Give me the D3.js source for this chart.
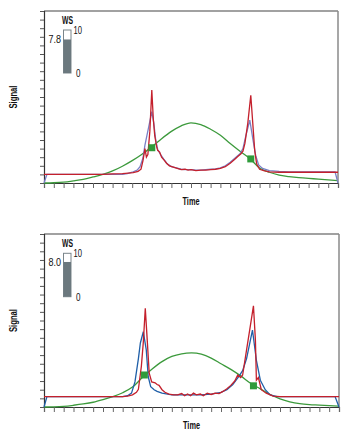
<!DOCTYPE html>
<html><head><meta charset="utf-8">
<script src="https://cdn.jsdelivr.net/npm/d3@7"></script>
<style>body{margin:0;background:#fff}svg{display:block}</style>
</head><body>
<script>
// ---------- data ----------
const timeTicks = d3.range(0, 31, 1);
const signalTicks = d3.range(0, 21, 1);

const topRed = [[0,1.0],[2,1.0],[4,1.0],[6,1.0],[7,1.05],[8,1.1],[8.6,1.15],[9.1,1.2],[9.6,1.35],[9.9,1.6],[10.1,2.6],[10.3,4.0],[10.45,3.0],[10.6,3.3],[10.8,6.0],[11.0,10.8],[11.15,7.5],[11.3,5.5],[11.5,4.2],[11.6,3.8],[11.8,3.6],[12.0,3.0],[12.3,2.6],[12.5,2.3],[12.8,2.0],[13.2,1.85],[13.6,1.7],[14.0,1.55],[14.4,1.6],[14.7,1.5],[15.0,1.55],[15.5,1.45],[16.0,1.5],[16.5,1.5],[17.0,1.55],[17.5,1.6],[18.0,1.7],[18.5,1.9],[19.0,2.3],[19.5,2.8],[19.8,3.1],[20.1,3.4],[20.3,3.7],[20.5,4.6],[20.8,7.0],[21.1,10.2],[21.3,7.0],[21.5,3.8],[21.7,2.2],[22.0,1.6],[22.5,1.4],[23,1.3],[24,1.25],[26,1.25],[28,1.25],[30,1.25]];
const topBlue = [[0,0],[0.3,1.0],[2,1.0],[4,1.0],[6,1.0],[8,1.0],[8.5,1.1],[9.0,1.25],[9.5,1.5],[9.8,1.9],[10.1,2.9],[10.3,4.4],[10.5,5.5],[10.7,6.6],[11.0,8.3],[11.2,7.0],[11.4,5.0],[11.6,3.9],[11.9,3.3],[12.2,2.8],[12.6,2.2],[13.0,1.9],[13.5,1.75],[14,1.6],[14.5,1.55],[15,1.55],[15.5,1.5],[16,1.5],[16.5,1.55],[17,1.6],[17.5,1.65],[18,1.75],[18.5,2.0],[19,2.4],[19.5,2.9],[20.0,3.4],[20.3,4.0],[20.6,5.5],[21.0,7.3],[21.3,5.2],[21.6,3.2],[21.9,2.1],[22.3,1.7],[23,1.45],[24,1.35],[25,1.3],[27,1.3],[29.7,1.3],[30,0]];
const topGreen = [[0,0],[1,0.03],[2,0.1],[3,0.25],[4,0.43],[5,0.7],[6,1.0],[7,1.4],[8,1.95],[9,2.6],[10,3.35],[11,4.2],[12,5.15],[13,6.0],[14,6.65],[15,7.0],[16,6.8],[17,6.25],[18,5.55],[19,4.6],[20,3.7],[21,2.85],[22,1.75],[23,1.25],[24,0.92],[25,0.75],[26,0.62],[27,0.53],[28,0.46],[29,0.37],[30,0.27]];
const topMarkers = [[11.0,4.1],[21.1,2.8]];
const topWS = 7.8;

const botRed = [[0,1.2],[2,1.2],[4,1.2],[6,1.2],[8,1.2],[8.5,1.25],[9.0,1.4],[9.4,1.7],[9.6,2.05],[9.9,4.7],[10.1,7.5],[10.3,11.4],[10.5,7.7],[10.7,3.9],[10.95,2.9],[11.3,2.8],[11.5,2.6],[11.7,2.5],[12.0,2.0],[12.3,1.7],[12.7,1.5],[13.2,1.4],[13.6,1.4],[14,1.55],[14.3,1.3],[14.6,1.5],[14.9,1.3],[15.2,1.6],[15.5,1.4],[15.9,1.5],[16.2,1.3],[16.6,1.6],[17.0,1.45],[17.4,1.6],[17.8,1.55],[18.2,1.8],[18.6,2.1],[19.0,2.5],[19.4,3.0],[19.7,3.7],[20.0,3.4],[20.2,3.7],[20.6,6.6],[21.0,9.5],[21.3,11.7],[21.5,7.7],[21.6,3.1],[21.8,3.4],[22.1,2.0],[22.6,1.6],[23.3,1.25],[24,1.2],[26,1.2],[28,1.2],[30,1.2]];
const botBlue = [[0,0],[0.3,1.2],[2,1.2],[4,1.2],[6,1.2],[8,1.2],[8.5,1.3],[8.9,1.6],[9.25,2.9],[9.6,5.6],[9.8,7.4],[10.1,8.7],[10.4,6.6],[10.6,3.5],[10.85,2.35],[11.2,2.0],[11.5,1.8],[12,1.6],[13,1.4],[14,1.4],[15,1.4],[16,1.4],[17,1.5],[18,1.7],[18.6,2.0],[19.2,2.6],[19.8,3.5],[20.2,4.2],[20.6,5.6],[21.2,8.9],[21.6,5.4],[22.0,3.1],[22.5,2.0],[23.0,1.4],[23.7,1.2],[26,1.2],[29.6,1.2],[30,0]];
const botGreen = [[0,0],[1,0.02],[2,0.08],[3,0.2],[4,0.35],[5,0.55],[6,0.85],[7,1.2],[8,1.65],[9,2.3],[10,3.4],[11,4.4],[12,5.25],[13,5.85],[14,6.15],[15,6.25],[16,6.1],[17,5.65],[18,5.0],[19,4.35],[20,3.6],[21,2.75],[22,2.1],[23,1.45],[24,0.95],[25,0.6],[26,0.38],[27,0.27],[28,0.22],[29,0.15],[30,0.1]];
const botMarkers = [[10.2,3.7],[21.3,2.45]];
const botWS = 8.0;

const wsMax = 10;

// ---------- drawing ----------
const svg = d3.select("body").append("svg").attr("width",356).attr("height",442);
const FONT = "'Liberation Sans','Arial',sans-serif";

function label(g, txt, x, y, size, bold, len, anchor){
  const t = g.append("text").attr("x",x).attr("y",y)
    .attr("font-family",FONT).attr("font-size",size).attr("fill","#111")
    .attr("font-weight",bold?"bold":"normal").attr("text-anchor",anchor||"start")
    .attr("textLength",len).attr("lengthAdjust","spacingAndGlyphs").text(txt);
  return t;
}

function panel(cfg){
  const x = d3.scaleLinear().domain([0,30]).range([cfg.x0,cfg.x1]);
  const y = d3.scaleLinear().domain([0,20]).range([cfg.yb,cfg.yt]);
  const g = svg.append("g");

  g.append("line").attr("x1",cfg.x0).attr("x2",cfg.x1).attr("y1",cfg.yt).attr("y2",cfg.yt)
    .attr("stroke","#444").attr("stroke-width",1.2);
  g.append("line").attr("x1",cfg.x1).attr("x2",cfg.x1).attr("y1",cfg.yt).attr("y2",cfg.yb)
    .attr("stroke","#8a8a8a").attr("stroke-width",1.5);

  const xa = g.append("g").attr("transform",`translate(0,${cfg.yb})`)
    .call(d3.axisBottom(x).tickValues(timeTicks).tickSize(5).tickFormat(""));
  xa.select(".domain").attr("stroke","#333").attr("stroke-width",1.2);
  xa.selectAll(".tick line").attr("stroke","#666");
  const ya = g.append("g").attr("transform",`translate(${cfg.x0},0)`)
    .call(d3.axisLeft(y).tickValues(signalTicks).tickSize(4).tickFormat(""));
  ya.select(".domain").attr("stroke","#333").attr("stroke-width",1.2);
  ya.selectAll(".tick line").attr("stroke","#555");

  const line = d3.line().x(d=>x(d[0])).y(d=>y(d[1]));
  const smooth = d3.line().x(d=>x(d[0])).y(d=>y(d[1])).curve(d3.curveMonotoneX);

  g.append("path").datum(cfg.green).attr("d",smooth).attr("fill","none")
    .attr("stroke","#3c9a3c").attr("stroke-width",1.3);
  g.append("path").datum(cfg.blue).attr("d",line).attr("fill","none")
    .attr("stroke",cfg.blueColor).attr("stroke-width",1.3);
  g.append("path").datum(cfg.red).attr("d",line).attr("fill","none")
    .attr("stroke","#c4202c").attr("stroke-width",1.3);

  g.selectAll("rect.mk").data(cfg.markers).enter().append("rect").attr("class","mk")
    .attr("x",d=>x(d[0])-3.5).attr("y",d=>y(d[1])-3.5).attr("width",7).attr("height",7)
    .attr("fill","#2f9b3a");

  // axis titles
  label(g,"Time",(cfg.x0+cfg.x1)/2,cfg.yb+22,10,true,17,"middle");
  const sg = g.append("g").attr("transform",`translate(17,${(cfg.yt+cfg.yb)/2}) rotate(-90)`);
  label(sg,"Signal",0,0,10.5,true,23,"middle");

  // WS gauge
  const gy = d3.scaleLinear().domain([0,wsMax]).range([cfg.gb,cfg.gt]);
  const gx = 63.5, gw = 7.5;
  g.append("rect").attr("x",gx).attr("y",gy(wsMax)).attr("width",gw).attr("height",gy(0)-gy(wsMax))
    .attr("fill","#fff").attr("stroke","#7a858a").attr("stroke-width",1);
  g.append("rect").attr("x",gx).attr("y",gy(cfg.ws)).attr("width",gw).attr("height",gy(0)-gy(cfg.ws))
    .attr("fill","#6b787e");
  label(g,"WS",gx+4,gy(wsMax)-6.5,10,true,11,"middle");
  label(g,String(wsMax),73.5,gy(wsMax)+4,11,false,8.5,"start");
  label(g,"0",76,gy(0)+4,11,false,4.5,"start");
  label(g,cfg.ws.toFixed(1),61,gy(cfg.ws)+4,11,false,12.5,"end");
}

panel({x0:44,x1:338,yt:11,yb:183,red:topRed,blue:topBlue,green:topGreen,markers:topMarkers,
  blueColor:"#7a80c6",ws:topWS,gt:30,gb:73});
panel({x0:44,x1:339,yt:234,yb:407,red:botRed,blue:botBlue,green:botGreen,markers:botMarkers,
  blueColor:"#1f5fa8",ws:botWS,gt:253.3,gb:296.7});
</script>
</body></html>
